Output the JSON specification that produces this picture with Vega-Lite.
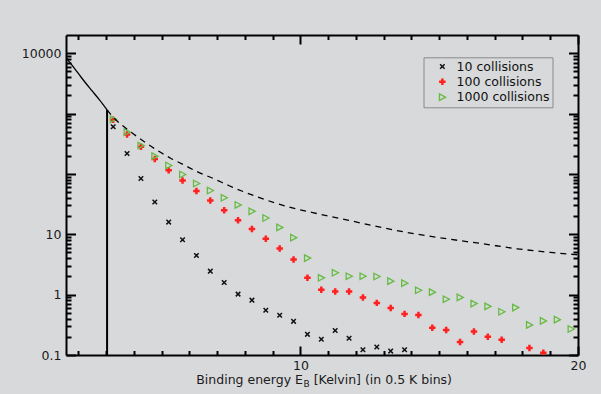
{
  "$schema": "https://vega.github.io/schema/vega-lite/v6.json",
  "width": 512,
  "height": 320,
  "autosize": {"type": "none"},
  "padding": {"left": 66, "top": 35, "right": 23, "bottom": 39},
  "background": "#d8d9db",
  "config": {
    "view": {"stroke": null},
    "font": "DejaVu Sans",
    "axis": {"grid": false, "domainColor": "#000000", "domainWidth": 2, "tickColor": "#000000", "tickWidth": 2, "labelFont": "DejaVu Sans", "labelFontSize": 12.5, "labelColor": "#1a1a1a", "labelFlush": false, "labelOverlap": false, "titleFont": "DejaVu Sans", "titleFontWeight": "normal", "titleColor": "#1a1a1a"}
  },
  "datasets": {
    "pts": [
      {"series": "10 collisions", "x": 3.25, "v": 604},
      {"series": "10 collisions", "x": 3.75, "v": 218},
      {"series": "10 collisions", "x": 4.25, "v": 83.9},
      {"series": "10 collisions", "x": 4.75, "v": 34.3},
      {"series": "10 collisions", "x": 5.25, "v": 15.9},
      {"series": "10 collisions", "x": 5.75, "v": 8.13},
      {"series": "10 collisions", "x": 6.25, "v": 4.46},
      {"series": "10 collisions", "x": 6.75, "v": 2.45},
      {"series": "10 collisions", "x": 7.25, "v": 1.59},
      {"series": "10 collisions", "x": 7.75, "v": 1.02},
      {"series": "10 collisions", "x": 8.25, "v": 0.81},
      {"series": "10 collisions", "x": 8.75, "v": 0.55},
      {"series": "10 collisions", "x": 9.25, "v": 0.455},
      {"series": "10 collisions", "x": 9.75, "v": 0.361},
      {"series": "10 collisions", "x": 10.25, "v": 0.22},
      {"series": "10 collisions", "x": 10.75, "v": 0.182},
      {"series": "10 collisions", "x": 11.25, "v": 0.254},
      {"series": "10 collisions", "x": 11.75, "v": 0.189},
      {"series": "10 collisions", "x": 12.25, "v": 0.122},
      {"series": "10 collisions", "x": 12.75, "v": 0.136},
      {"series": "10 collisions", "x": 13.25, "v": 0.116},
      {"series": "10 collisions", "x": 13.75, "v": 0.122},
      {"series": "100 collisions", "x": 3.25, "v": 789},
      {"series": "100 collisions", "x": 3.75, "v": 451},
      {"series": "100 collisions", "x": 4.25, "v": 281},
      {"series": "100 collisions", "x": 4.75, "v": 177},
      {"series": "100 collisions", "x": 5.25, "v": 115},
      {"series": "100 collisions", "x": 5.75, "v": 77.6},
      {"series": "100 collisions", "x": 6.25, "v": 52.2},
      {"series": "100 collisions", "x": 6.75, "v": 36.1},
      {"series": "100 collisions", "x": 7.25, "v": 24.9},
      {"series": "100 collisions", "x": 7.75, "v": 17.0},
      {"series": "100 collisions", "x": 8.25, "v": 12.2},
      {"series": "100 collisions", "x": 8.75, "v": 8.45},
      {"series": "100 collisions", "x": 9.25, "v": 5.83},
      {"series": "100 collisions", "x": 9.75, "v": 3.83},
      {"series": "100 collisions", "x": 10.25, "v": 1.9},
      {"series": "100 collisions", "x": 10.75, "v": 1.2},
      {"series": "100 collisions", "x": 11.25, "v": 1.13},
      {"series": "100 collisions", "x": 11.75, "v": 1.13},
      {"series": "100 collisions", "x": 12.25, "v": 0.9},
      {"series": "100 collisions", "x": 12.75, "v": 0.73},
      {"series": "100 collisions", "x": 13.25, "v": 0.6},
      {"series": "100 collisions", "x": 13.75, "v": 0.48},
      {"series": "100 collisions", "x": 14.25, "v": 0.46},
      {"series": "100 collisions", "x": 14.75, "v": 0.284},
      {"series": "100 collisions", "x": 15.25, "v": 0.26},
      {"series": "100 collisions", "x": 15.75, "v": 0.164},
      {"series": "100 collisions", "x": 16.25, "v": 0.244},
      {"series": "100 collisions", "x": 16.75, "v": 0.201},
      {"series": "100 collisions", "x": 17.25, "v": 0.179},
      {"series": "100 collisions", "x": 18.25, "v": 0.131},
      {"series": "100 collisions", "x": 18.75, "v": 0.109},
      {"series": "1000 collisions", "x": 3.25, "v": 801},
      {"series": "1000 collisions", "x": 3.75, "v": 493},
      {"series": "1000 collisions", "x": 4.25, "v": 296},
      {"series": "1000 collisions", "x": 4.75, "v": 197},
      {"series": "1000 collisions", "x": 5.25, "v": 138},
      {"series": "1000 collisions", "x": 5.75, "v": 97.7},
      {"series": "1000 collisions", "x": 6.25, "v": 69.3},
      {"series": "1000 collisions", "x": 6.75, "v": 53.0},
      {"series": "1000 collisions", "x": 7.25, "v": 40.2},
      {"series": "1000 collisions", "x": 7.75, "v": 30.6},
      {"series": "1000 collisions", "x": 8.25, "v": 24.0},
      {"series": "1000 collisions", "x": 8.75, "v": 18.6},
      {"series": "1000 collisions", "x": 9.25, "v": 13.0},
      {"series": "1000 collisions", "x": 9.75, "v": 8.78},
      {"series": "1000 collisions", "x": 10.25, "v": 4.03},
      {"series": "1000 collisions", "x": 10.75, "v": 1.9},
      {"series": "1000 collisions", "x": 11.25, "v": 2.3},
      {"series": "1000 collisions", "x": 11.75, "v": 2.02},
      {"series": "1000 collisions", "x": 12.25, "v": 2.02},
      {"series": "1000 collisions", "x": 12.75, "v": 2.0},
      {"series": "1000 collisions", "x": 13.25, "v": 1.67},
      {"series": "1000 collisions", "x": 13.75, "v": 1.55},
      {"series": "1000 collisions", "x": 14.25, "v": 1.18},
      {"series": "1000 collisions", "x": 14.75, "v": 1.1},
      {"series": "1000 collisions", "x": 15.25, "v": 0.84},
      {"series": "1000 collisions", "x": 15.75, "v": 0.9},
      {"series": "1000 collisions", "x": 16.25, "v": 0.71},
      {"series": "1000 collisions", "x": 16.75, "v": 0.64},
      {"series": "1000 collisions", "x": 17.25, "v": 0.52},
      {"series": "1000 collisions", "x": 17.75, "v": 0.61},
      {"series": "1000 collisions", "x": 18.25, "v": 0.315},
      {"series": "1000 collisions", "x": 18.75, "v": 0.367},
      {"series": "1000 collisions", "x": 19.25, "v": 0.385},
      {"series": "1000 collisions", "x": 19.75, "v": 0.27}
    ],
    "solid": [
      {"x": 1.55, "v": 8414},
      {"x": 1.75, "v": 6457},
      {"x": 2.0, "v": 4571},
      {"x": 2.25, "v": 3236},
      {"x": 2.5, "v": 2344},
      {"x": 2.75, "v": 1698},
      {"x": 3.03, "v": 1148}
    ],
    "dashed": [
      {"x": 3.03, "v": 1148},
      {"x": 3.27, "v": 851},
      {"x": 3.81, "v": 525},
      {"x": 4.32, "v": 355},
      {"x": 4.84, "v": 245},
      {"x": 5.32, "v": 182},
      {"x": 5.8, "v": 141},
      {"x": 6.31, "v": 107},
      {"x": 6.88, "v": 83.2},
      {"x": 7.45, "v": 63.1},
      {"x": 8.32, "v": 43.7},
      {"x": 9.52, "v": 28.8},
      {"x": 10.72, "v": 21.4},
      {"x": 11.74, "v": 17.0},
      {"x": 12.64, "v": 13.8},
      {"x": 13.85, "v": 10.7},
      {"x": 15.05, "v": 8.71},
      {"x": 16.61, "v": 6.92},
      {"x": 17.81, "v": 5.75},
      {"x": 19.01, "v": 5.01},
      {"x": 20.0, "v": 4.57}
    ],
    "vline": [{"x": 3.03, "top": 1148, "bottom": 0.1}]
  },
  "layer": [
    {
      "data": {"name": "pts"},
      "mark": {"type": "point", "filled": false, "size": 42, "opacity": 1, "clip": true},
      "encoding": {
        "x": {
          "field": "x", "type": "quantitative",
          "scale": {"domain": [1.55, 20], "nice": false, "zero": false},
          "axis": {
            "orient": "bottom",
            "values": [2, 3, 4, 5, 6, 7, 8, 9, 10, 11, 12, 13, 14, 15, 16, 17, 18, 19, 20],
            "tickSize": {"condition": {"test": "datum.value == 10 || datum.value == 20", "value": -9}, "value": -4.5},
            "labelExpr": "datum.value == 10 ? '10' : datum.value == 20 ? '20' : ''",
            "labelPadding": 13,
            "title": "Binding energy E",
            "titleFontSize": 12.5,
            "titleX": 236.4,
            "titleY": 28.5,
            "titleAlign": "right",
            "titleBaseline": "alphabetic"
          }
        },
        "y": {
          "field": "v", "type": "quantitative",
          "scale": {"type": "log", "domain": [0.1, 20000], "nice": false},
          "axis": {
            "orient": "left",
            "values": [0.1, 0.2, 0.3, 0.4, 0.5, 0.6, 0.7, 0.8, 0.9, 1, 2, 3, 4, 5, 6, 7, 8, 9, 10, 20, 30, 40, 50, 60, 70, 80, 90, 100, 200, 300, 400, 500, 600, 700, 800, 900, 1000, 2000, 3000, 4000, 5000, 6000, 7000, 8000, 9000, 10000],
            "tickSize": {"condition": {"test": "indexof([0.1, 1, 10, 100, 1000, 10000], datum.value) >= 0", "value": -9.5}, "value": -5},
            "labelExpr": "datum.value == 10000 ? '10000' : datum.value == 10 ? '10' : datum.value == 1 ? '1' : datum.value == 0.1 ? '0.1' : ''",
            "labelPadding": 14.5,
            "labelBaseline": "middle",
            "title": null
          }
        },
        "color": {
          "field": "series", "type": "nominal",
          "scale": {"domain": ["10 collisions", "100 collisions", "1000 collisions"], "range": ["#111111", "#ff2020", "#66bb44"]},
          "legend": {"orient": "none", "legendX": 357.5, "legendY": 22.3, "title": null, "strokeColor": "#8a8a8a", "padding": 3, "symbolOffset": 9.6, "labelOffset": 8, "labelFont": "DejaVu Sans", "labelFontSize": 12.5, "labelColor": "#111111", "symbolSize": 42, "rowPadding": 0.3}
        },
        "shape": {
          "field": "series", "type": "nominal",
          "scale": {"domain": ["10 collisions", "100 collisions", "1000 collisions"], "range": ["M-0.7,-0.7L0.7,0.7M-0.7,0.7L0.7,-0.7", "M-1,0L1,0M0,-1L0,1", "M-0.9,-1L1,0L-0.9,1Z"]},
          "legend": {"orient": "none", "legendX": 357.5, "legendY": 22.3, "title": null, "strokeColor": "#8a8a8a", "padding": 3, "symbolOffset": 9.6, "labelOffset": 8, "labelFont": "DejaVu Sans", "labelFontSize": 12.5, "labelColor": "#111111", "symbolSize": 42, "rowPadding": 0.3}
        },
        "strokeWidth": {
          "field": "series", "type": "nominal",
          "scale": {"type": "ordinal", "domain": ["10 collisions", "100 collisions", "1000 collisions"], "range": [1.5, 2.5, 1.3]},
          "legend": {"orient": "none", "legendX": 357.5, "legendY": 22.3, "title": null, "strokeColor": "#8a8a8a", "padding": 3, "symbolOffset": 9.6, "labelOffset": 8, "labelFont": "DejaVu Sans", "labelFontSize": 12.5, "labelColor": "#111111", "symbolSize": 42, "rowPadding": 0.3}
        }
      }
    },
    {
      "data": {"name": "solid"},
      "mark": {"type": "line", "color": "#000000", "strokeWidth": 1.3, "interpolate": "monotone", "clip": true},
      "encoding": {
        "x": {
          "field": "x", "type": "quantitative",
          "scale": {"domain": [1.55, 20], "nice": false, "zero": false},
          "axis": {
            "orient": "top",
            "values": [2, 3, 4, 5, 6, 7, 8, 9, 10, 11, 12, 13, 14, 15, 16, 17, 18, 19, 20],
            "tickSize": {"condition": {"test": "datum.value == 10 || datum.value == 20", "value": -9}, "value": -4.5},
            "labels": false,
            "title": null
          }
        },
        "y": {
          "field": "v", "type": "quantitative",
          "scale": {"type": "log", "domain": [0.1, 20000], "nice": false},
          "axis": {
            "orient": "right",
            "values": [0.1, 0.2, 0.3, 0.4, 0.5, 0.6, 0.7, 0.8, 0.9, 1, 2, 3, 4, 5, 6, 7, 8, 9, 10, 20, 30, 40, 50, 60, 70, 80, 90, 100, 200, 300, 400, 500, 600, 700, 800, 900, 1000, 2000, 3000, 4000, 5000, 6000, 7000, 8000, 9000, 10000],
            "tickSize": {"condition": {"test": "indexof([0.1, 1, 10, 100, 1000, 10000], datum.value) >= 0", "value": -9.5}, "value": -5},
            "labels": false,
            "title": null
          }
        }
      }
    },
    {
      "data": {"name": "dashed"},
      "mark": {"type": "line", "color": "#000000", "strokeWidth": 1.3, "strokeDash": [6, 5], "interpolate": "monotone", "clip": true},
      "encoding": {
        "x": {
          "field": "x", "type": "quantitative",
          "scale": {"domain": [1.55, 20], "nice": false, "zero": false},
          "axis": {
            "orient": "bottom",
            "domain": false,
            "ticks": false,
            "labels": false,
            "title": "B",
            "titleFontSize": 9,
            "titleX": 237,
            "titleY": 31.3,
            "titleAlign": "left",
            "titleBaseline": "alphabetic"
          }
        },
        "y": {
          "field": "v", "type": "quantitative",
          "scale": {"type": "log", "domain": [0.1, 20000], "nice": false},
          "axis": null
        }
      }
    },
    {
      "data": {"name": "vline"},
      "mark": {"type": "rule", "color": "#000000", "strokeWidth": 2},
      "encoding": {
        "x": {
          "field": "x", "type": "quantitative",
          "scale": {"domain": [1.55, 20], "nice": false, "zero": false},
          "axis": {
            "orient": "bottom",
            "domain": false,
            "ticks": false,
            "labels": false,
            "title": "[Kelvin] (in 0.5 K bins)",
            "titleFontSize": 12.5,
            "titleX": 247.2,
            "titleY": 28.5,
            "titleAlign": "left",
            "titleBaseline": "alphabetic"
          }
        },
        "y": {
          "field": "top", "type": "quantitative",
          "scale": {"type": "log", "domain": [0.1, 20000], "nice": false},
          "axis": null
        },
        "y2": {"field": "bottom"}
      }
    }
  ],
  "resolve": {"axis": {"x": "independent", "y": "independent"}}
}
